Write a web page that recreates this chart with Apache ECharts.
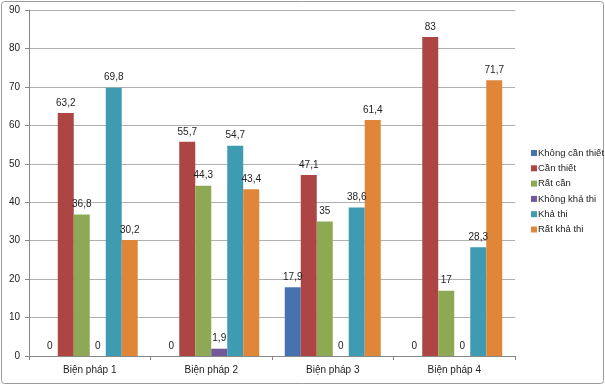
<!DOCTYPE html>
<html><head><meta charset="utf-8">
<script src="https://cdn.jsdelivr.net/npm/echarts@6/dist/echarts.min.js"></script>
<style>html,body{margin:0;padding:0;background:#fff}#c{width:605px;height:385px}</style>
</head><body><div id="c"></div>
<script>
const categories = ['Biện pháp 1','Biện pháp 2','Biện pháp 3','Biện pháp 4'];
const seriesNames = ['Không cần thiết','Cần thiết','Rất cần','Không khả thi','Khả thi','Rất khả thi'];
const khongCanThiet = [0, 0, 17.9, 0];
const canThiet = [63.2, 55.7, 47.1, 83];
const ratCan = [36.8, 44.3, 35, 17];
const khongKhaThi = [0, 1.9, 0, 0];
const khaThi = [69.8, 54.7, 38.6, 28.3];
const ratKhaThi = [30.2, 43.4, 61.4, 71.7];
const colors = ['#4672B0','#AC4543','#8DA953','#73589A','#3F9BB2','#E08638'];
const allData = [khongCanThiet, canThiet, ratCan, khongKhaThi, khaThi, ratKhaThi];

const chart = echarts.init(document.getElementById('c'), null, {renderer:'canvas'});
chart.setOption({
  animation:false,
  textStyle:{fontFamily:'Liberation Sans, Arial, sans-serif'},
  graphic:[{type:'rect',shape:{x:1.5,y:1.5,width:602,height:382,r:3},style:{fill:'none',stroke:'#9a9a9a',lineWidth:1}}],
  grid:{left:29,right:90,top:10,bottom:29},
  legend:{orient:'vertical',left:526,top:143,itemWidth:6,itemHeight:6,itemGap:5.3,icon:'rect',
    textStyle:{fontSize:9.5,lineHeight:10,color:'#222',padding:[0,0,0,-4]},data:seriesNames},
  xAxis:{type:'category',data:categories,
    axisLine:{lineStyle:{color:'#888'}},
    axisTick:{show:true,length:4,lineStyle:{color:'#888'}},
    axisLabel:{fontSize:10,color:'#222',margin:9}},
  yAxis:{type:'value',min:0,max:90,interval:10,
    axisLine:{show:true,lineStyle:{color:'#888'}},
    axisTick:{show:true,length:4,lineStyle:{color:'#888'}},
    splitLine:{lineStyle:{color:'#b0b0b0'}},
    axisLabel:{fontSize:10,color:'#222',margin:9}},
  series: seriesNames.map((n,i)=>({
    name:n,type:'bar',data:allData[i],barGap:'0%',barCategoryGap:'21%',
    itemStyle:{color:colors[i]},
    label:{show:true,position:'top',fontSize:10,color:'#222',distance:5,
      formatter:p=>String(p.value).replace('.',',')}
  }))
});
</script></body></html>
